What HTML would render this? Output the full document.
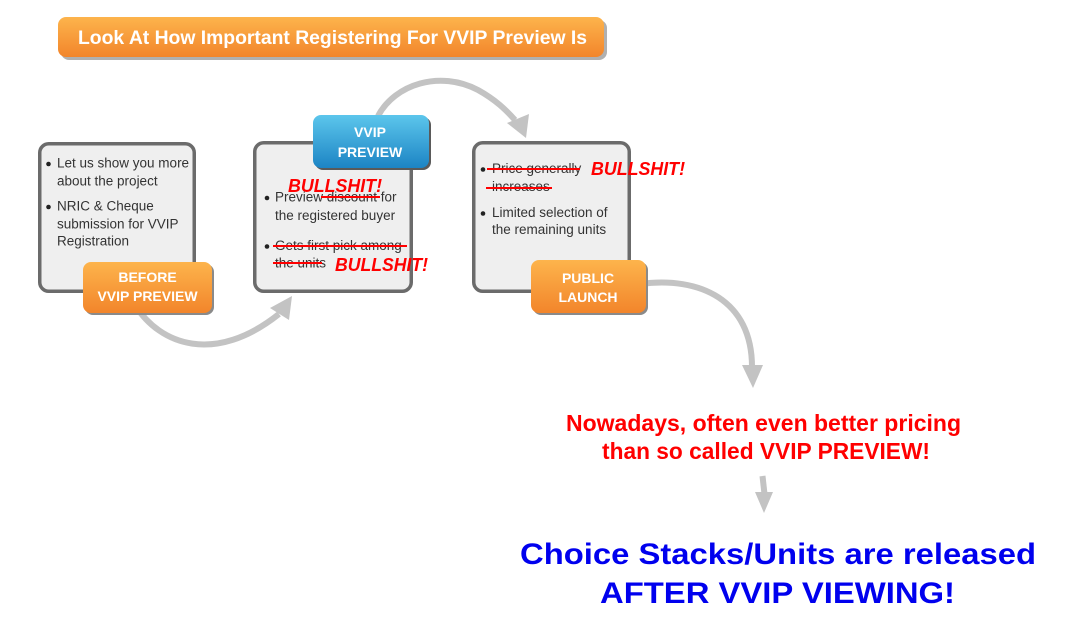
<!DOCTYPE html>
<html>
<head>
<meta charset="utf-8">
<style>
  html,body{margin:0;padding:0;background:#fff;}
  body{width:1070px;height:636px;overflow:hidden;}
  svg{display:block;}
  .t{font-family:"Liberation Sans",Arial,sans-serif;}
</style>
</head>
<body>
<svg width="1070" height="636" viewBox="0 0 1070 636" xmlns="http://www.w3.org/2000/svg">
  <defs>
    <linearGradient id="og" x1="0" y1="0" x2="0" y2="1">
      <stop offset="0" stop-color="#fdb44c"/>
      <stop offset="1" stop-color="#f2852b"/>
    </linearGradient>
    <linearGradient id="bg" x1="0" y1="0" x2="0" y2="1">
      <stop offset="0" stop-color="#5cc6ec"/>
      <stop offset="1" stop-color="#1c84c4"/>
    </linearGradient>
  </defs>

  <!-- Title bar -->
  <rect x="61" y="20" width="546" height="40" rx="8" fill="#b0b0b0"/>
  <rect x="58" y="17" width="546" height="40" rx="8" fill="url(#og)"/>
  <text class="t" x="78" y="44" font-size="19.3" font-weight="bold" fill="#fff" textLength="509" lengthAdjust="spacingAndGlyphs">Look At How Important Registering For VVIP Preview Is</text>

  <!-- Boxes -->
  <rect x="39.75" y="143.75" width="154.5" height="147.5" rx="9" fill="#efefef" stroke="#6b6b6b" stroke-width="3.5"/>
  <rect x="254.75" y="142.75" width="156.5" height="148.5" rx="9" fill="#efefef" stroke="#6b6b6b" stroke-width="3.5"/>
  <rect x="473.75" y="142.75" width="155.5" height="148.5" rx="9" fill="#efefef" stroke="#6b6b6b" stroke-width="3.5"/>

  <!-- Box 1 text -->
  <g class="t" font-size="13.5" fill="#333">
    <circle cx="48.5" cy="164" r="2.3" fill="#222"/>
    <text x="57" y="167.5">Let us show you more</text>
    <text x="57" y="185.5">about the project</text>
    <circle cx="48.5" cy="207" r="2.3" fill="#222"/>
    <text x="57" y="210.5">NRIC &amp; Cheque</text>
    <text x="57" y="228.5">submission for VVIP</text>
    <text x="57" y="245.5">Registration</text>
  </g>

  <!-- Box 2 text -->
  <g class="t" font-size="13.5" fill="#333">
    <circle cx="267" cy="198" r="2.3" fill="#222"/>
    <text x="275" y="201.5">Preview discount for</text>
    <text x="275" y="220">the registered buyer</text>
    <circle cx="267" cy="246.5" r="2.3" fill="#222"/>
    <text x="275" y="250">Gets first pick among</text>
    <text x="275" y="267.5">the units</text>
  </g>
  <g stroke="#ff0000" stroke-width="2">
    <line x1="321" y1="197" x2="380" y2="197"/>
    <line x1="273" y1="246" x2="407" y2="246"/>
    <line x1="273" y1="263" x2="322" y2="263"/>
  </g>

  <!-- Box 3 text -->
  <g class="t" font-size="13.5" fill="#333">
    <circle cx="483" cy="169.5" r="2.3" fill="#222"/>
    <text x="492" y="173">Price generally</text>
    <text x="492" y="191">increases</text>
    <circle cx="483" cy="213.5" r="2.3" fill="#222"/>
    <text x="492" y="217">Limited selection of</text>
    <text x="492" y="234">the remaining units</text>
  </g>
  <g stroke="#ff0000" stroke-width="2">
    <line x1="487" y1="169" x2="580" y2="169"/>
    <line x1="486" y1="188" x2="552" y2="188"/>
  </g>

  <!-- BULLSHIT labels -->
  <g class="t" font-size="18" font-weight="bold" font-style="italic" fill="#ff0000">
    <text x="288" y="192" textLength="94" lengthAdjust="spacingAndGlyphs">BULLSHIT!</text>
    <text x="335" y="271" textLength="93" lengthAdjust="spacingAndGlyphs">BULLSHIT!</text>
    <text x="591" y="175" textLength="94" lengthAdjust="spacingAndGlyphs">BULLSHIT!</text>
  </g>

  <!-- Arrows -->
  <g fill="none" stroke="#c3c3c3" stroke-width="6" stroke-linecap="butt">
    <path d="M135,305 C160,345 215,365 279,314"/>
    <path d="M378,116 C395,84 440,70 478,90 C496,100 506,110 515,120"/>
    <path d="M640,284 C700,276 752,300 752,367"/>
    <line x1="762.5" y1="476" x2="764.5" y2="494"/>
  </g>
  <g fill="#c3c3c3">
    <polygon points="270,308 289,320 292,296"/>
    <polygon points="507,123 529,114 526,138"/>
    <polygon points="742,365 763,365 753,388"/>
    <polygon points="755,492 773,492 764,513"/>
  </g>

  <!-- Labels -->
  <rect x="85" y="264" width="129" height="51" rx="8" fill="#8a8a8a"/>
  <rect x="83" y="262" width="129" height="51" rx="8" fill="url(#og)"/>
  <g class="t" font-size="14" font-weight="bold" fill="#fff" text-anchor="middle">
    <text x="147.5" y="282">BEFORE</text>
    <text x="147.5" y="301">VVIP PREVIEW</text>
  </g>

  <rect x="315" y="117" width="116" height="53" rx="8" fill="#5a5a5a"/>
  <rect x="313" y="115" width="116" height="53" rx="8" fill="url(#bg)"/>
  <g class="t" font-size="14" font-weight="bold" fill="#fff" text-anchor="middle">
    <text x="370" y="137">VVIP</text>
    <text x="370" y="157">PREVIEW</text>
  </g>

  <rect x="533" y="262" width="115" height="53" rx="8" fill="#8a8a8a"/>
  <rect x="531" y="260" width="115" height="53" rx="8" fill="url(#og)"/>
  <g class="t" font-size="14" font-weight="bold" fill="#fff" text-anchor="middle">
    <text x="588" y="283">PUBLIC</text>
    <text x="588" y="302">LAUNCH</text>
  </g>

  <!-- Red statement -->
  <g class="t" font-size="23" font-weight="bold" fill="#ff0000">
    <text x="566" y="431" textLength="395" lengthAdjust="spacingAndGlyphs">Nowadays, often even better pricing</text>
    <text x="602" y="459" textLength="328" lengthAdjust="spacingAndGlyphs">than so called VVIP PREVIEW!</text>
  </g>

  <!-- Blue statement -->
  <g class="t" font-size="29.5" font-weight="bold" fill="#0000ee">
    <text x="520" y="564" textLength="516" lengthAdjust="spacingAndGlyphs">Choice Stacks/Units are released</text>
    <text x="600" y="603" textLength="355" lengthAdjust="spacingAndGlyphs">AFTER VVIP VIEWING!</text>
  </g>
</svg>
</body>
</html>
